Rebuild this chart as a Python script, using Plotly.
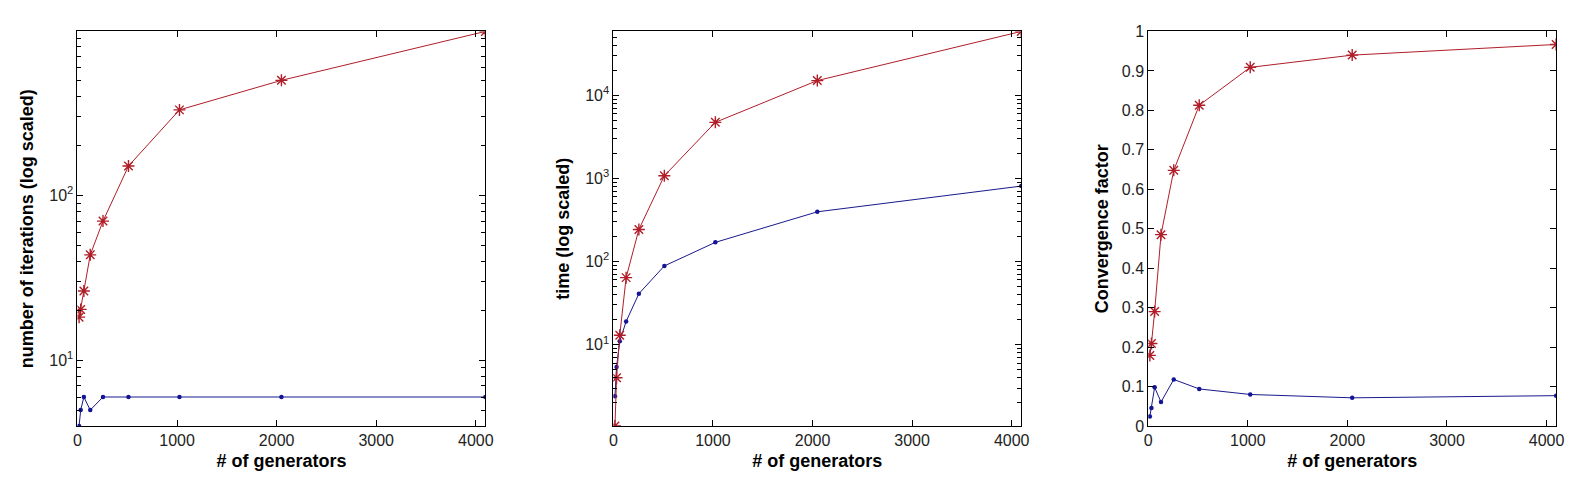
import numpy as np
import plotly.graph_objects as go

# ----------------------------
# Data
# ----------------------------
generators = [16, 32, 64, 128, 256, 512, 1024, 2048, 4096]

iters_red = [18.3, 20.4, 26.4, 43.7, 70, 151, 331, 500, 990]
iters_blue = [4, 5, 6, 5, 6, 6, 6, 6, 6]

time_red = [1.05, 4.0, 13, 64, 243, 1075, 4720, 15000, 58500]
time_blue = [2.4, 5.4, 11, 19, 41, 88.5, 170, 396, 807]

conv_red = [0.179, 0.209, 0.29, 0.485, 0.648, 0.813, 0.909, 0.94, 0.967]
conv_blue = [0.024, 0.046, 0.098, 0.061, 0.118, 0.094, 0.08, 0.0715, 0.077]

x_ticks = [0, 1000, 2000, 3000, 4000]
log_ticks = [1, 10, 100, 1000, 10000]
log_ticktext = ["10<sup>0</sup>", "10<sup>1</sup>", "10<sup>2</sup>",
                "10<sup>3</sup>", "10<sup>4</sup>"]
conv_ticks = [0, 0.1, 0.2, 0.3, 0.4, 0.5, 0.6, 0.7, 0.8, 0.9, 1]
conv_ticktext = ["0", "0.1", "0.2", "0.3", "0.4", "0.5", "0.6", "0.7", "0.8", "0.9", "1"]

y_titles = ["number of iterations (log scaled)", "time (log scaled)", "Convergence factor"]
x_title = "# of generators"

# ----------------------------
# Styles
# ----------------------------
RED_LINE = "rgb(175,30,40)"
RED_MARK = "rgb(215,30,40)"
BLUE_LINE = "rgb(25,25,140)"
BLUE_MARK = "rgb(20,20,150)"

FONT = "Liberation Sans, Arial, sans-serif"

minor_log = [m * 10 ** p for p in range(0, 5) for m in range(2, 10)]

fig = go.Figure()

series = [
    (iters_red, iters_blue),
    (time_red, time_blue),
    (conv_red, conv_blue),
]

for i, (red, blue) in enumerate(series):
    xa = "x" if i == 0 else f"x{i + 1}"
    ya = "y" if i == 0 else f"y{i + 1}"
    fig.add_trace(go.Scatter(
        x=generators, y=blue, mode="lines+markers",
        line=dict(color=BLUE_LINE, width=1),
        marker=dict(symbol="circle", size=4.5, color=BLUE_MARK),
        xaxis=xa, yaxis=ya, showlegend=False,
    ))
    fig.add_trace(go.Scatter(
        x=generators, y=red, mode="lines+markers",
        line=dict(color=RED_LINE, width=1),
        marker=dict(symbol="asterisk-open", size=10,
                    line=dict(color=RED_MARK, width=1.4)),
        xaxis=xa, yaxis=ya, showlegend=False,
    ))

W, H = 1573, 483
x_domains = [[66 / W, 477 / W], [606 / W, 1017 / W], [1145 / W, 1556 / W]]
y_domain = [1 - 425 / H, 1 - 16 / H]

common_axis = dict(
    showline=True, linecolor="black", linewidth=1, mirror="ticks",
    ticks="inside", ticklen=6, tickcolor="black", tickwidth=1,
    showgrid=False, zeroline=False,
    tickfont=dict(family=FONT, size=16, color="#222"),
)

layout = dict(
    width=W, height=H,
    margin=dict(l=0, r=0, t=0, b=0),
    paper_bgcolor="white", plot_bgcolor="white",
    font=dict(family=FONT, color="black"),
    showlegend=False,
)

x_max = max(generators)
for i in range(3):
    suffix = "" if i == 0 else str(i + 1)
    layout["xaxis" + suffix] = dict(
        common_axis,
        domain=x_domains[i], anchor="y" + suffix,
        range=[0, x_max],
        tickmode="array", tickvals=x_ticks,
        title=dict(text=f"<b>{x_title}</b>", standoff=6,
                   font=dict(family=FONT, size=18, color="black")),
    )

# log axes for the first two panels, tight to the data
for i, (red, blue) in enumerate(series[:2]):
    suffix = "" if i == 0 else str(i + 1)
    lo = np.log10(min(min(red), min(blue)))
    hi = np.log10(max(max(red), max(blue)))
    layout["yaxis" + suffix] = dict(
        common_axis,
        domain=y_domain, anchor="x" + suffix,
        type="log", range=[lo, hi],
        tickmode="array", tickvals=log_ticks, ticktext=log_ticktext,
        minor=dict(ticks="inside", ticklen=4, tickcolor="black",
                   tickmode="array", tickvals=minor_log),
        title=dict(text=f"<b>{y_titles[i]}</b>", standoff=10,
                   font=dict(family=FONT, size=18, color="black")),
    )

layout["yaxis3"] = dict(
    common_axis,
    domain=y_domain, anchor="x3",
    range=[0, 1],
    tickmode="array", tickvals=conv_ticks, ticktext=conv_ticktext,
    title=dict(text=f"<b>{y_titles[2]}</b>", standoff=8,
               font=dict(family=FONT, size=18, color="black")),
)

fig.update_layout(**layout)

fig.write_html("out.html")
